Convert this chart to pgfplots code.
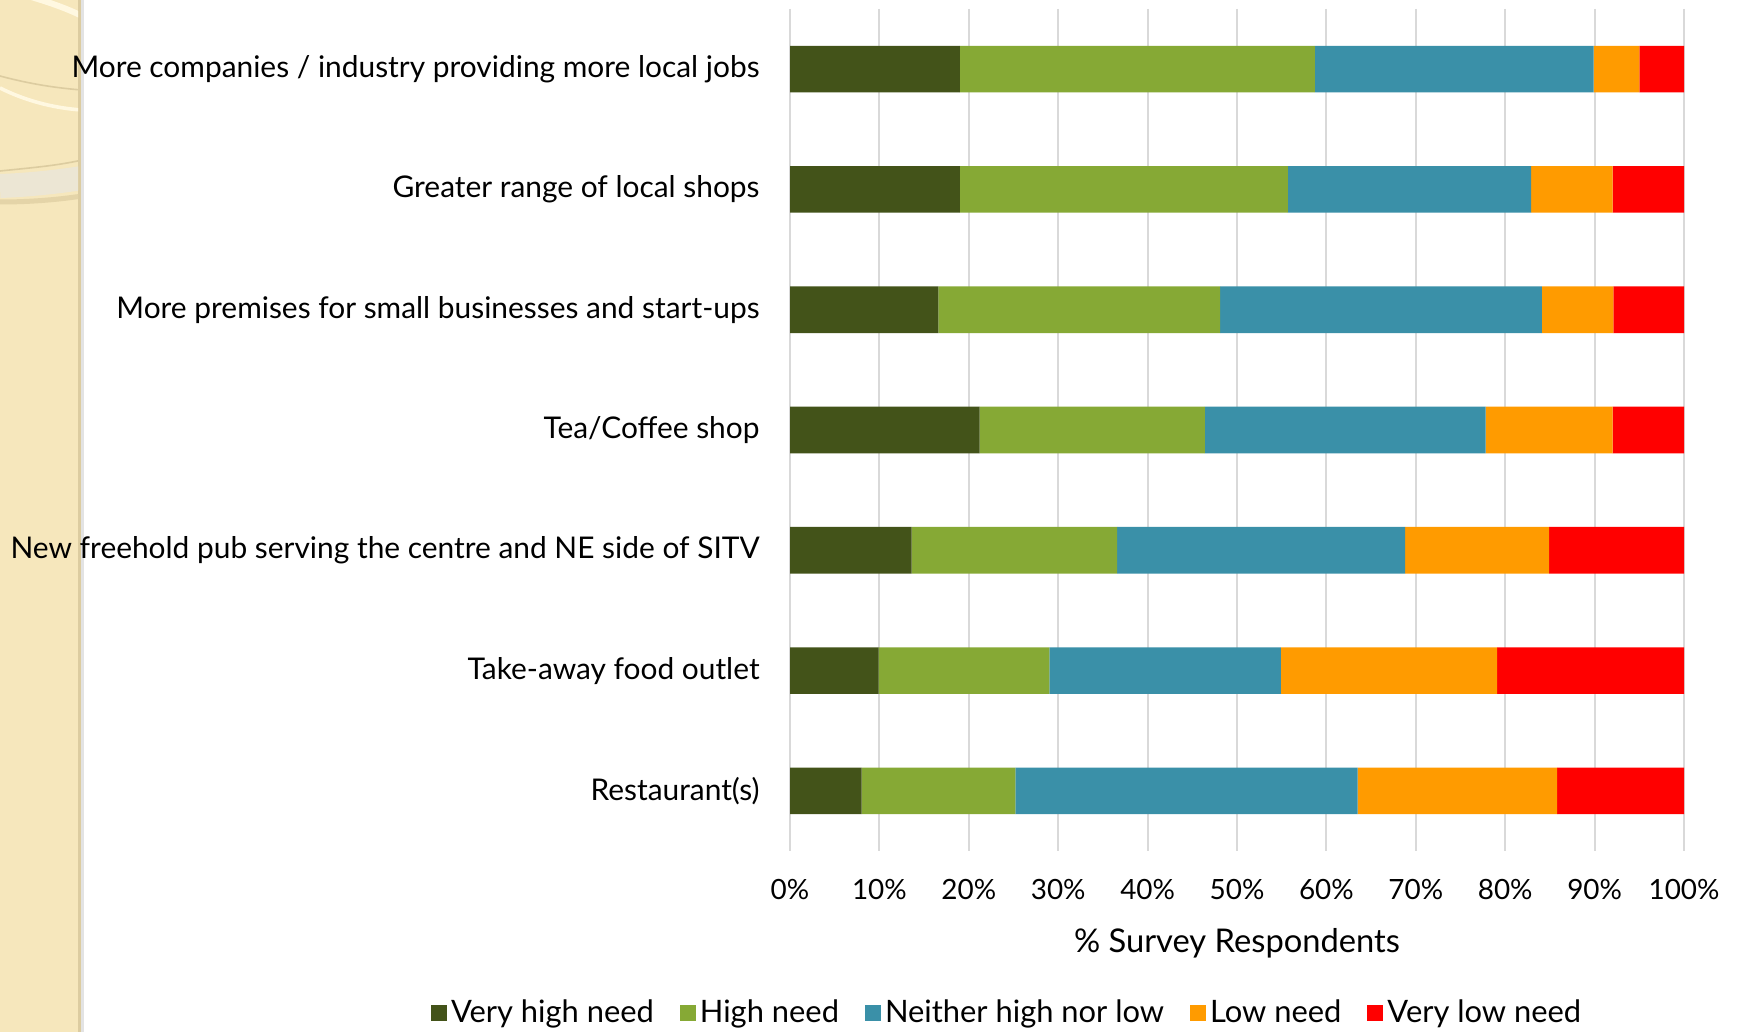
\documentclass[border=0pt]{standalone}
\usepackage{pgfplots}
\pgfplotsset{compat=1.18}
\usepackage{fontspec}
\setmainfont{Lato}
\definecolor{vh}{RGB}{67,83,25}
\definecolor{hn}{RGB}{134,169,53}
\definecolor{nn}{RGB}{58,144,168}
\definecolor{ln}{RGB}{255,155,0}
\definecolor{vl}{RGB}{255,0,0}
\definecolor{beige}{RGB}{246,231,188}
\definecolor{beigedark}{RGB}{220,204,160}
\definecolor{cream}{RGB}{255,248,225}
\definecolor{ringgray}{RGB}{236,230,212}
\begin{document}
\begin{tikzpicture}[x=1bp,y=1bp]
\fill[white] (0,0) rectangle (869,516);
\fill[beige] (0,0) rectangle (40,516);
\fill[beigedark] (39,0) rectangle (40.5,516);
\fill[gray!22] (40.5,0) rectangle (42,516);
\begin{scope}
\clip (0,0) rectangle (39,516);
\draw[cream, line width=3bp] (14,518) .. controls (24,515) and (33,512) .. (41,508);
\draw[beigedark, line width=0.8bp] (0,478) .. controls (15,474) and (28,472) .. (41,471);
\draw[cream, line width=1.8bp] (0,472) .. controls (12,466) and (26,462) .. (41,461);
\draw[beigedark, line width=0.8bp] (0,430.5) .. controls (14,432) and (28,433) .. (41,436);
\draw[beigedark!70!beige, line width=2.5bp] (0,415) .. controls (14,415) and (28,416) .. (41,418);
\draw[ringgray, line width=12bp] (0,423) .. controls (14,423.5) and (28,425) .. (41,427);
\end{scope}
\begin{axis}[
  at={(395bp,90.5bp)}, anchor=south west,
  scale only axis, width=447bp, height=421bp,
  xbar stacked, bar width=23.3bp,
  xmin=0, xmax=100, ymin=-0.5, ymax=6.5, y dir=reverse,
  ytick={0,...,6},
  yticklabels={More companies / industry providing more local jobs, Greater range of local shops, More premises for small businesses and start-ups, Tea/Coffee shop, New freehold pub serving the centre and NE side of SITV, Take-away food outlet, Restaurant(s)},
  xtick={0,10,...,100},
  xticklabel={\pgfmathprintnumber{\tick}\%},
  /pgf/number format/assume math mode=true,
  axis line style={draw=none},
  major tick length=0pt,
  xmajorgrids, grid style={color=black!15, line width=1bp},
  xticklabel style={font=\fontsize{14}{16}\selectfont, inner sep=0pt, anchor=north, yshift=-14bp},
  yticklabel style={font=\fontsize{15}{17}\selectfont, inner sep=0pt, anchor=east, xshift=-15bp},
  xlabel={\% Survey Respondents},
  xlabel style={font=\fontsize{16.4}{18}\selectfont, at={(axis description cs:0.5,0)}, anchor=center, yshift=-46bp},
  legend columns=5,
  legend style={draw=none, fill=none, at={(axis description cs:0.244,-0.192)}, anchor=center, font=\fontsize{15.5}{17}\selectfont, /tikz/every even column/.append style={column sep=11bp}},
  legend image code/.code={\fill[#1] (0bp,-4bp) rectangle (8bp,4bp);},
]
\addplot[fill=vh, draw=none] coordinates {(19.0,0) (19.0,1) (16.6,2) (21.2,3) (13.6,4) (9.9,5) (8.0,6)};
\addplot[fill=hn, draw=none] coordinates {(39.7,0) (36.7,1) (31.5,2) (25.2,3) (23.0,4) (19.1,5) (17.2,6)};
\addplot[fill=nn, draw=none] coordinates {(31.2,0) (27.2,1) (36.0,2) (31.4,3) (32.2,4) (25.9,5) (38.3,6)};
\addplot[fill=ln, draw=none] coordinates {(5.1,0) (9.1,1) (8.0,2) (14.2,3) (16.1,4) (24.2,5) (22.3,6)};
\addplot[fill=vl, draw=none] coordinates {(5.0,0) (8.0,1) (7.9,2) (8.0,3) (15.1,4) (20.9,5) (14.2,6)};
\legend{Very high need, High need, Neither high nor low, Low need, Very low need}
\end{axis}
\end{tikzpicture}
\end{document}
